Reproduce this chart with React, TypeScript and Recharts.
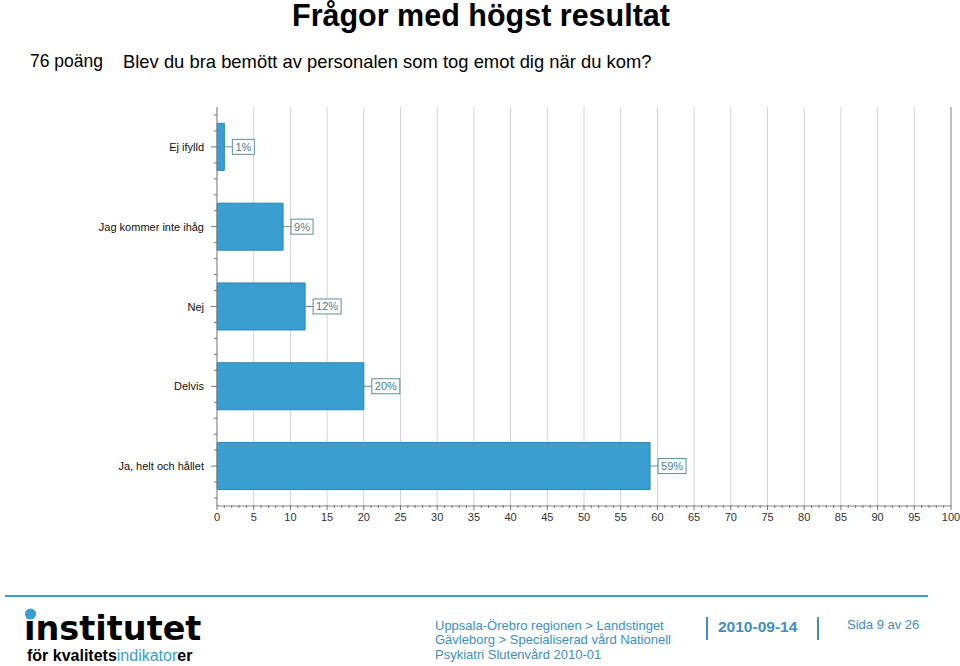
import React from "react";
import {
  BarChart,
  Bar,
  XAxis,
  YAxis,
  CartesianGrid,
  ReferenceLine,
  LabelList,
} from "recharts";

const categories = [
  "Ej ifylld",
  "Jag kommer inte ihåg",
  "Nej",
  "Delvis",
  "Ja, helt och hållet",
];
const percents = [1, 9, 12, 20, 59];
const xTicks = [0, 5, 10, 15, 20, 25, 30, 35, 40, 45, 50, 55, 60, 65, 70, 75, 80, 85, 90, 95, 100];
// every unit gets a small tick, labelled ones are in xTicks
const allXTicks = Array.from({ length: 101 }, (_, i) => i);

const data = categories.map((name, i) => ({ name, value: percents[i] }));

const CHART_W = 960;
const CHART_H = 540;
const M_TOP = 107;
const X_AXIS_H = 34;
const BAND = (CHART_H - M_TOP - X_AXIS_H) / categories.length;

const BLUE = "#3a9fd0";
const FOOT_BLUE = "#3f8fc4";
const FONT = "'Liberation Sans', Arial, sans-serif";

function XTick(props: any) {
  const { x, y, payload } = props;
  const major = xTicks.includes(payload.value);
  return (
    <g>
      <line x1={x} x2={x} y1={y - 1} y2={y + (major ? 4 : 2)} stroke="#777" />
      {major && (
        <text x={x} y={y + 15} textAnchor="middle" fontSize={11} fill="#333" fontFamily={FONT}>
          {payload.value}
        </text>
      )}
    </g>
  );
}

function YTick(props: any) {
  const { x, y, payload } = props;
  const step = BAND / 5;
  return (
    <g>
      {[-2, -1, 1, 2].map((k) => (
        <line key={k} x1={x - 3} x2={x} y1={y + k * step} y2={y + k * step} stroke="#777" />
      ))}
      <line x1={x - 6} x2={x} y1={y} y2={y} stroke="#777" />
      <text x={x - 13} y={y + 4} textAnchor="end" fontSize={11} fill="#111" fontFamily={FONT}>
        {payload.value}
      </text>
    </g>
  );
}

function ValueBox(props: any) {
  const { x, y, width, height, value } = props;
  const label = `${value}%`;
  const bx = x + width + 8;
  const cy = y + height / 2;
  const bw = label.length * 6 + 10;
  return (
    <g>
      <line x1={x + width} x2={bx} y1={cy} y2={cy} stroke="#5f8f99" />
      <rect x={bx} y={cy - 7.5} width={bw} height={15} fill="#fff" stroke="#5f8f99" />
      <text x={bx + bw / 2} y={cy + 4} textAnchor="middle" fontSize={11} fill="#4d7f8c" fontFamily={FONT}>
        {label}
      </text>
    </g>
  );
}

export default function App() {
  return (
    <div style={{ position: "absolute", left: 0, top: 0, width: 960, height: 666, background: "#fff", overflow: "hidden" }}>
      <svg width={960} height={666} style={{ position: "absolute", left: 0, top: 0 }} fontFamily={FONT}>
        <text x={481} y={26} textAnchor="middle" fontSize={30.5} fontWeight="bold" fill="#000">
          Frågor med högst resultat
        </text>
        <text x={30} y={67} fontSize={17.5} fill="#000">76 poäng</text>
        <text x={123} y={68} fontSize={18.4} fill="#000">
          Blev du bra bemött av personalen som tog emot dig när du kom?
        </text>

        <line x1={5} x2={928} y1={596} y2={596} stroke={BLUE} strokeWidth={2} />
        <text x={24} y={640} fontSize={33.5} fontWeight="bold" fill="#000" fontFamily="'DejaVu Sans', sans-serif">
          institutet
        </text>
        <circle cx={30.5} cy={614} r={5.5} fill={BLUE} />
        <text x={27} y={661} fontSize={16} fontWeight="bold" fill="#000">
          för kvalitets<tspan fill={BLUE} fontWeight="normal">indikator</tspan>er
        </text>

        <text x={435} y={630} fontSize={13} fill={FOOT_BLUE}>Uppsala-Örebro regionen &gt; Landstinget</text>
        <text x={435} y={644} fontSize={13} fill={FOOT_BLUE}>Gävleborg &gt; Specialiserad vård Nationell</text>
        <text x={435} y={659} fontSize={13} fill={FOOT_BLUE}>Psykiatri Slutenvård 2010-01</text>
        <line x1={707} x2={707} y1={617} y2={640} stroke={FOOT_BLUE} strokeWidth={2} />
        <text x={718} y={632} fontSize={15.5} fontWeight="bold" fill={FOOT_BLUE}>2010-09-14</text>
        <line x1={818} x2={818} y1={617} y2={640} stroke={FOOT_BLUE} strokeWidth={2} />
        <text x={847} y={629} fontSize={13} fill={FOOT_BLUE}>Sida 9 av 26</text>
      </svg>

      <div style={{ position: "absolute", left: 0, top: 0 }}>
        <BarChart
          width={CHART_W}
          height={CHART_H}
          data={data}
          layout="vertical"
          margin={{ top: M_TOP, right: 9, bottom: 0, left: 0 }}
          barCategoryGap="20.5%"
        >
          <CartesianGrid horizontal={false} stroke="#d4d4d4" verticalValues={xTicks} />
          <XAxis
            type="number"
            dataKey="value"
            domain={[0, 100]}
            ticks={allXTicks}
            interval={0}
            height={X_AXIS_H}
            tickSize={0}
            tickMargin={0}
            tickLine={false}
            axisLine={{ stroke: "#888" }}
            tick={<XTick />}
          />
          <XAxis
            xAxisId="top"
            type="number"
            orientation="top"
            domain={[0, 100]}
            height={0}
            tick={false}
            tickLine={false}
            axisLine={{ stroke: "#d4d4d4" }}
          />
          <YAxis
            type="category"
            dataKey="name"
            width={217}
            tickSize={0}
            tickMargin={0}
            tickLine={false}
            interval={0}
            axisLine={{ stroke: "#888" }}
            tick={<YTick />}
          />
          <ReferenceLine x={100} stroke="#999" />
          <Bar dataKey="value" fill={BLUE} stroke="#2d84b3" strokeWidth={1} isAnimationActive={false}>
            <LabelList dataKey="value" content={<ValueBox />} />
          </Bar>
        </BarChart>
      </div>
    </div>
  );
}
